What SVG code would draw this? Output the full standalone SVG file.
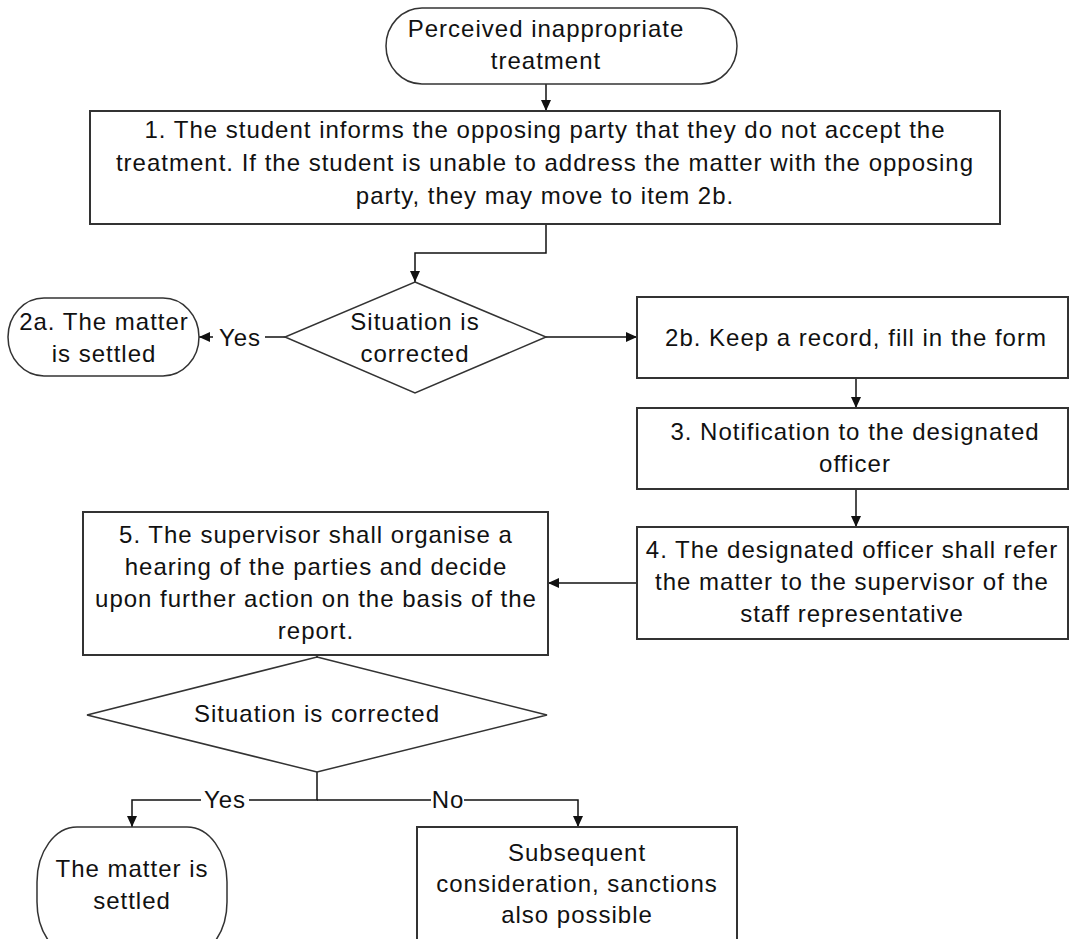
<svg xmlns="http://www.w3.org/2000/svg" width="1070" height="939" viewBox="0 0 1070 939">
<style>
.box{fill:#fff;stroke:#333;stroke-width:2}
.term{fill:#fff;stroke:#333;stroke-width:1.5}
.conn{fill:none;stroke:#111;stroke-width:1.5}
text{font-family:"Liberation Sans",Arial,sans-serif;font-size:24px;letter-spacing:1px;fill:#111;text-anchor:middle}
.lblbg{fill:#fff;stroke:none}
</style>
<defs>
<marker id="ah" markerWidth="11" markerHeight="10" refX="11" refY="5" orient="auto" markerUnits="userSpaceOnUse"><path d="M0,0 L11,5 L0,10 z" fill="#111"/></marker>
</defs>
<rect width="1070" height="939" fill="#fff"/>

<g id="connectors">
<path class="conn" d="M546 84 V111" marker-end="url(#ah)"/>
<path class="conn" d="M546 224 V253 H415 V282" marker-end="url(#ah)"/>
<path class="conn" d="M285 337 H199" marker-end="url(#ah)"/>
<path class="conn" d="M546 337 H637" marker-end="url(#ah)"/>
<path class="conn" d="M856 378 V408" marker-end="url(#ah)"/>
<path class="conn" d="M856 489 V527" marker-end="url(#ah)"/>
<path class="conn" d="M637 583 H548" marker-end="url(#ah)"/>
<path class="conn" d="M317 645 V657" marker-end="url(#ah)"/>
<path class="conn" d="M317 772 V800 H132 V827" marker-end="url(#ah)"/>
<path class="conn" d="M317 800 H578 V827" marker-end="url(#ah)"/>
<rect class="lblbg" x="213" y="322" width="52" height="30"/>
<text x="240" y="346">Yes</text>
<rect class="lblbg" x="201" y="786" width="48" height="28"/>
<text x="225" y="808">Yes</text>
<rect class="lblbg" x="431" y="786" width="33" height="28"/>
<text x="448" y="808">No</text>
</g>

<g id="start">
<rect class="term" x="386" y="8" width="351" height="76" rx="36" ry="38"/>
<text x="546" y="37">Perceived inappropriate</text>
<text x="546" y="69">treatment</text>
</g>

<g id="step1">
<rect class="box" x="90" y="111" width="910" height="113"/>
<text x="545" y="138">1. The student informs the opposing party that they do not accept the</text>
<text x="545" y="171">treatment. If the student is unable to address the matter with the opposing</text>
<text x="545" y="204">party, they may move to item 2b.</text>
</g>

<g id="decision1">
<polygon class="term" points="415,282 546,337 415,393 285,337"/>
<text x="415" y="330">Situation is</text>
<text x="415" y="362">corrected</text>
</g>

<g id="step2a">
<rect class="term" x="8" y="298" width="191" height="78" rx="36" ry="39"/>
<text x="104" y="330">2a. The matter</text>
<text x="104" y="362">is settled</text>
</g>

<g id="step2b">
<rect class="box" x="637" y="297" width="431" height="81"/>
<text x="856" y="346">2b. Keep a record, fill in the form</text>
</g>

<g id="step3">
<rect class="box" x="637" y="408" width="431" height="81"/>
<text x="855" y="440">3. Notification to the designated</text>
<text x="855" y="472">officer</text>
</g>

<g id="step4">
<rect class="box" x="637" y="527" width="431" height="112"/>
<text x="852" y="558">4. The designated officer shall refer</text>
<text x="852" y="590">the matter to the supervisor of the</text>
<text x="852" y="622">staff representative</text>
</g>

<g id="step5">
<rect class="box" x="83" y="512" width="465" height="143"/>
<text x="316" y="543">5. The supervisor shall organise a</text>
<text x="316" y="575">hearing of the parties and decide</text>
<text x="316" y="607">upon further action on the basis of the</text>
<text x="316" y="639">report.</text>
</g>

<g id="decision2">
<polygon class="term" points="317,657 547,715 317,772 87,715"/>
<text x="317" y="722">Situation is corrected</text>
</g>

<g id="settled">
<rect class="term" x="37" y="827" width="190" height="130" rx="40" ry="55"/>
<text x="132" y="877">The matter is</text>
<text x="132" y="909">settled</text>
</g>

<g id="subsequent">
<rect class="box" x="417" y="827" width="320" height="120"/>
<text x="577" y="861">Subsequent</text>
<text x="577" y="892">consideration, sanctions</text>
<text x="577" y="923">also possible</text>
</g>
</svg>
